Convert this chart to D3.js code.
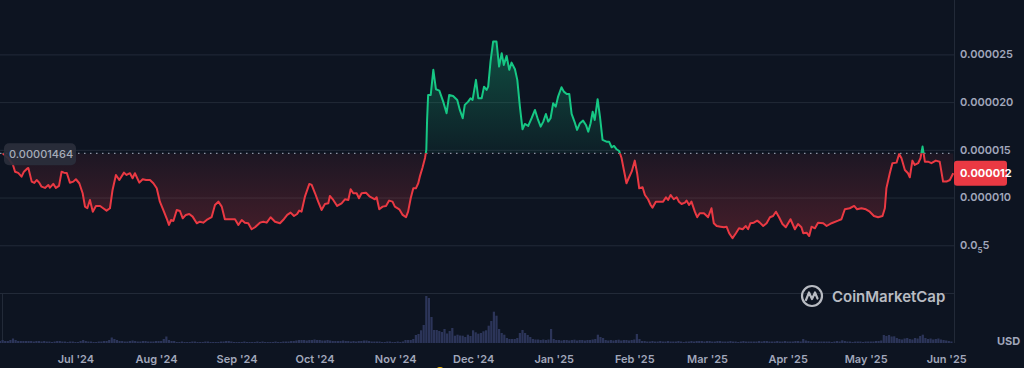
<!DOCTYPE html>
<html><head><meta charset="utf-8">
<script src="https://cdn.jsdelivr.net/npm/d3@7"></script>
<style>
html,body{margin:0;padding:0;background:#0d1421;overflow:hidden}
svg{display:block}
text{font-family:Inter,"Noto Sans",sans-serif}
</style>
</head><body>
<svg id="c" width="1024" height="368"></svg>
<script>
// ---------- DATA ----------
const startDate = Date.UTC(2024, 5, 2); // day 0
const endDate = Date.UTC(2025, 5, 4);
const openPrice = 0.00001464;            // reference (period open) price
const openPriceLabel = "0.00001464";
const lastPriceLabel = "0.000012";
const currencyLabel = "USD";
const watermarkText = "CoinMarketCap";

// price samples: day offset from startDate, price in micro-USD (1e-6)
const priceDays = [
1.0,3.1,5.0,5.8,7.0,8.3,9.2,10.3,10.9,12.2,
13.2,14.1,15.1,16.0,17.3,18.6,19.2,20.5,21.5,22.7,
23.7,24.6,25.7,26.9,28.2,29.2,30.5,31.8,32.7,33.6,
34.6,35.7,36.9,38.5,39.7,41.0,42.3,43.3,44.6,45.9,
47.7,48.7,50.0,51.0,51.9,53.6,54.9,56.2,57.7,59.0,
60.3,61.5,62.8,64.1,65.0,65.8,66.7,68.0,69.2,70.3,
71.5,72.8,74.1,75.7,76.9,78.2,79.5,81.4,82.7,84.0,
85.3,86.5,88.5,90.4,91.7,93.0,94.2,95.5,96.8,98.1,
100.0,101.3,102.6,104.1,105.8,107.7,109.2,110.5,111.8,113.1,
114.3,115.1,116.0,117.3,119.0,119.9,121.2,122.4,123.7,125.0,
126.3,126.9,128.2,129.7,131.4,132.7,134.0,134.9,135.9,137.2,
138.1,139.1,140.8,142.3,144.2,144.9,145.9,147.2,148.5,149.7,
151.0,151.9,153.6,154.9,156.2,157.0,158.0,159.0,160.0,160.9,
161.5,162.5,163.5,164.0,164.3,164.7,165.7,166.7,167.7,169.0,
170.5,171.8,172.8,174.3,175.9,176.9,178.0,178.8,180.1,181.0,
181.8,183.1,184.0,185.3,186.2,187.2,187.8,188.7,189.7,191.0,
192.0,193.0,193.8,194.9,195.9,196.8,198.1,199.0,200.0,201.0,
201.9,203.2,204.5,205.8,207.0,208.0,209.0,210.0,210.9,211.8,
212.8,213.8,214.7,216.0,216.9,218.0,219.0,219.9,221.2,222.0,
223.1,224.3,225.4,226.3,227.2,228.0,228.8,229.9,230.8,231.8,
233.3,234.3,235.3,236.2,237.2,238.2,239.1,240.0,241.0,242.0,
243.0,244.2,245.1,245.9,247.2,248.1,249.3,250.3,251.0,252.3,
253.8,255.1,256.2,257.0,258.0,259.2,260.3,261.2,262.2,263.5,
264.1,265.1,266.0,267.3,268.2,269.2,270.8,272.4,273.7,274.6,
275.7,277.2,278.5,279.5,280.5,281.8,283.1,284.3,285.7,286.9,
287.8,288.7,290.0,291.3,292.3,293.6,294.9,296.2,297.4,298.5,
299.7,301.0,302.3,304.1,305.8,307.0,308.3,309.0,310.3,311.3,
312.2,313.5,314.7,316.7,318.0,319.9,322.4,323.7,325.0,326.9,
328.6,329.7,331.4,333.1,334.6,336.2,337.8,339.5,340.4,341.0,
342.3,343.3,344.9,345.9,346.8,348.1,349.3,350.0,351.0,351.9,
353.2,354.1,354.9,355.8,357.0,358.3,360.0,361.5,362.8,364.1,
365.4,366.7];
const priceMicro = [
14.64,14.15,13.42,12.71,12.58,12.19,12.71,13.00,13.10,11.67,
11.53,11.84,11.56,11.14,11.01,11.32,11.04,11.43,11.01,11.22,
12.71,12.61,12.58,11.56,11.67,11.92,11.50,10.45,9.05,8.88,
9.75,8.52,9.12,9.12,8.88,8.63,8.88,10.80,12.37,11.84,
12.61,12.37,12.55,12.02,12.55,11.56,11.92,11.84,11.84,11.50,
10.97,9.57,8.70,7.83,7.13,7.65,7.55,8.70,8.60,7.83,
8.18,8.28,8.00,7.31,7.47,7.37,7.65,7.94,9.22,9.57,
9.05,7.73,7.73,7.73,7.13,7.65,7.37,7.31,6.68,6.89,
7.37,7.47,7.37,7.94,7.47,7.31,7.73,8.18,8.42,8.07,
8.28,8.63,8.52,10.09,11.43,11.32,10.45,9.57,8.70,9.33,
9.40,10.17,9.75,9.12,9.40,9.82,9.75,10.87,10.45,10.45,
9.93,10.45,10.51,10.09,9.82,10.03,8.77,9.05,9.12,9.68,
9.57,9.05,8.77,8.18,7.94,8.52,9.93,10.97,10.97,11.50,
12.19,13.10,14.15,14.99,18.13,20.75,20.75,23.38,21.35,21.21,
20.05,18.84,20.75,20.65,20.23,19.18,18.31,19.71,20.05,20.41,
20.23,22.33,20.41,20.41,21.62,21.28,21.62,24.25,26.34,26.34,
23.72,25.13,23.90,24.84,23.38,24.14,23.45,22.33,19.53,17.16,
17.71,17.51,18.31,19.18,18.13,17.43,17.96,18.76,17.96,18.31,
19.88,19.53,20.58,21.56,21.10,20.86,20.86,18.76,17.79,17.09,
17.79,18.06,17.61,16.91,17.79,19.00,18.13,20.30,18.48,16.04,
15.86,15.86,15.27,15.41,15.06,14.88,14.15,12.89,11.50,12.13,
12.71,13.87,12.55,10.97,11.08,10.27,9.82,9.22,8.94,9.57,
9.57,9.57,10.03,9.75,10.27,9.82,10.03,9.57,9.33,9.47,
9.68,9.22,9.57,8.52,7.94,8.35,8.35,7.94,8.88,7.31,
7.02,6.95,6.89,6.95,6.26,5.73,6.26,6.78,6.68,7.02,
6.68,7.31,7.37,7.58,7.37,7.02,7.31,7.94,8.07,8.52,
7.94,7.23,6.89,7.73,6.68,7.23,6.89,6.26,6.32,5.97,
6.95,6.78,7.37,7.31,7.02,7.31,7.58,7.73,8.77,8.88,
9.12,8.77,8.88,8.77,8.52,8.07,7.94,8.07,8.88,10.97,
12.55,13.60,13.66,14.57,14.12,12.89,12.55,12.13,13.87,13.42,
13.60,14.12,15.34,13.76,13.76,13.60,13.87,13.76,11.67,11.67,
11.84,12.55];

// daily volume (x100k USD), one value per day from startDate
const volumeValues = [
2,3,2,2,3,4.5,3,2,2,2,
2,2,2,1.5,2,2,1.5,2,1.5,1.5,
1,1.5,2,2,1.5,1.5,1,1.5,1.5,1,
1,2,3,2,1.5,1.5,1,1,1.5,1.5,
2,2,3,5.5,4,3,2,2,1.5,1.5,
2,2.5,2,1.5,1.5,2,2,1.5,1.5,1.5,
2,2,2,4,6.5,3,2,2,1,1,
1.5,1,1,1,1.5,1.5,1,1,1,1.5,
1.5,1,1,1,1,1.5,1.5,2,2,1.5,
1,1,1,1,1.5,1,1,1,1,1.5,
1,1.5,1,1,1,1,1.5,1,1,1.5,
1.5,1.5,2,2,2.5,3,3,3,2.5,3,
3,3.5,3,3,2.5,2.5,3,2.5,2,2,
2,2,2.5,2,2,1.5,2,1.5,2,2,
2.5,2.5,2,1.5,1.5,1.5,1.5,1,1,1.5,
1.5,1,1,1.5,1,1.5,3,3,3,4,
8,9,12.7,18,47,45,26,13,13,12,
11,14,9.5,12,15,7.3,8.3,7.5,7.3,6,
8.3,7,12.7,10.7,9.3,10,11.7,12.7,17.3,22,
31.3,27.3,14,10,8.3,5,4,4,4,5,
10,13,10,8,6,4,3.5,3.5,3,3.5,
3,3.5,14,4,3,3,2.5,3,3,2.5,
3,3.3,2.5,3,3,2.5,3,3,3.5,4,
8.3,6,5,3,2.5,3,2.5,3,3.3,2.5,
3,3,2.5,3,3.5,9,4,2,2,1.5,
1.5,2,1.5,1.5,2,1.5,1.5,2,1.5,1.5,
1.5,2,1.5,1,1.5,1.5,2,1.5,2,2,
2,1.5,2,2,1.5,1.5,2,2,1.5,1.5,
1.5,2,1.5,1.5,1,1.5,2,1.5,1.5,1.5,
1.5,1.5,2,1.5,2,2,1.5,1.5,1.5,2,
1.5,1.5,2,1.5,1.5,1.5,2,2,1.5,4,
2.5,2,1.5,1.5,1.5,1.5,1.5,1.5,1.5,1.5,
1,1.5,2,1.5,2.7,2,1.5,1.5,1,1.5,
1.5,1.5,1,1.5,1.5,1.5,1.5,2,2,2.5,
8,7,8,6.5,6.7,5,4,3.5,4.5,5,
4,3.5,5,4.5,7,8.3,5,4,4.5,3.5,
4,4.5,3.5,3,2.5,2,1.5];

const monthTicks = ["2024-07-01","2024-08-01","2024-09-01","2024-10-01","2024-11-01","2024-12-01",
  "2025-01-01","2025-02-01","2025-03-01","2025-04-01","2025-05-01","2025-06-01"];
const priceTicks = [0.000005, 0.000010, 0.000015, 0.000020, 0.000025];
const priceTickLabels = ["0.0\u20855", "0.000010", "0.000015", "0.000020", "0.000025"];

// ---------- CHART ----------
const DAY = 86400000;
const W = 1024, H = 368;
const plotRight = 954, priceBottom = 293, volBottom = 343, volTop = 295;
const C = {bg:"#0d1421", grid:"#222a38", text:"#a1a7bb", green:"#16c784", red:"#ea3943", vol:"#2c3559"};

const svg = d3.select("#c");
svg.append("rect").attr("width", W).attr("height", H).attr("fill", C.bg);

const x = d3.scaleUtc().domain([new Date(startDate), new Date(endDate)]).range([0, plotRight]);
const y = d3.scaleLinear().domain([0, 0.0000307]).range([priceBottom, 0]);
const yv = d3.scaleLinear().domain([0, 48]).range([volBottom, volTop]);

const prices = priceDays.map((d, i) => ({date: new Date(startDate + d * DAY), v: priceMicro[i] * 1e-6}));
const vols = volumeValues.map((v, i) => ({date: new Date(startDate + i * DAY), v}));
const yBase = y(openPrice);

// grid lines
const gy = d3.axisRight(y).tickValues(priceTicks).tickSize(plotRight).tickFormat("");
const gridG = svg.append("g").call(gy);
gridG.select(".domain").remove();
gridG.selectAll("line").attr("stroke", C.grid).attr("stroke-width", 1);
svg.append("line").attr("x1", 0).attr("x2", plotRight).attr("y1", priceBottom + 0.5).attr("y2", priceBottom + 0.5)
  .attr("stroke", C.grid);
svg.append("line").attr("x1", plotRight + 0.5).attr("x2", plotRight + 0.5).attr("y1", 0).attr("y2", volBottom)
  .attr("stroke", C.grid);
svg.append("line").attr("x1", 2.5).attr("x2", 2.5).attr("y1", priceBottom).attr("y2", volBottom)
  .attr("stroke", C.grid);

// volume bars
svg.append("g").selectAll("rect").data(vols).join("rect")
  .attr("x", d => x(d.date) - 1.1).attr("width", 2.2)
  .attr("y", d => yv(d.v)).attr("height", d => volBottom - yv(d.v))
  .attr("fill", C.vol);

// gradients & clips
const defs = svg.append("defs");
const gG = defs.append("linearGradient").attr("id", "gGreen").attr("gradientUnits", "userSpaceOnUse")
  .attr("x1", 0).attr("x2", 0).attr("y1", 40).attr("y2", yBase);
gG.append("stop").attr("offset", 0).attr("stop-color", C.green).attr("stop-opacity", 0.33);
gG.append("stop").attr("offset", 1).attr("stop-color", C.green).attr("stop-opacity", 0.06);
const gR = defs.append("linearGradient").attr("id", "gRed").attr("gradientUnits", "userSpaceOnUse")
  .attr("x1", 0).attr("x2", 0).attr("y1", yBase).attr("y2", 240);
gR.append("stop").attr("offset", 0).attr("stop-color", C.red).attr("stop-opacity", 0.07);
gR.append("stop").attr("offset", 1).attr("stop-color", C.red).attr("stop-opacity", 0.26);
defs.append("clipPath").attr("id", "cAbove").append("rect")
  .attr("x", 0).attr("y", 0).attr("width", plotRight).attr("height", yBase);
defs.append("clipPath").attr("id", "cBelow").append("rect")
  .attr("x", 0).attr("y", yBase).attr("width", plotRight).attr("height", priceBottom - yBase);

const area = d3.area().x(d => x(d.date)).y0(yBase).y1(d => y(d.v));
const line = d3.line().x(d => x(d.date)).y(d => y(d.v));

svg.append("path").datum(prices).attr("d", area).attr("fill", "url(#gGreen)").attr("clip-path", "url(#cAbove)");
svg.append("path").datum(prices).attr("d", area).attr("fill", "url(#gRed)").attr("clip-path", "url(#cBelow)");

// baseline dotted
svg.append("line").attr("x1", 0).attr("x2", plotRight).attr("y1", yBase).attr("y2", yBase)
  .attr("stroke", "#8d93a3").attr("stroke-width", 1.2).attr("stroke-dasharray", "1.5,4.5");

svg.append("path").datum(prices).attr("d", line).attr("fill", "none").attr("stroke", C.green)
  .attr("stroke-width", 2).attr("stroke-linejoin", "round").attr("clip-path", "url(#cAbove)");
svg.append("path").datum(prices).attr("d", line).attr("fill", "none").attr("stroke", C.red)
  .attr("stroke-width", 2).attr("stroke-linejoin", "round").attr("clip-path", "url(#cBelow)");

// right price axis labels
const yLab = svg.append("g");
priceTicks.forEach((t, i) => {
  const s = priceTickLabels[i];
  const tx = yLab.append("text").attr("x", 960).attr("y", y(t)).attr("dy", "0.35em")
    .attr("fill", C.text).attr("font-size", 11).attr("font-weight", 600);
  const m = s.match(/^(.*?)([\u2080-\u2089])(.*)$/);
  if (m) {
    tx.append("tspan").text(m[1]);
    tx.append("tspan").attr("dy", 4).attr("font-size", 8).text(String.fromCharCode(m[2].charCodeAt(0) - 0x2080 + 48));
    tx.append("tspan").attr("dy", -4).text(m[3]);
  } else tx.text(s);
});

// x axis labels
const xa = d3.axisBottom(x).tickValues(monthTicks.map(s => new Date(s + "T00:00:00Z")))
  .tickFormat(d3.utcFormat("%b '%y")).tickSize(0).tickPadding(0);
const xg = svg.append("g").attr("transform", `translate(0,${355})`).call(xa);
xg.select(".domain").remove();
xg.selectAll("text").attr("fill", C.text).attr("font-size", 11).attr("font-weight", 600)
  .attr("font-family", "Inter, 'Noto Sans', sans-serif");

// current price badge
const lastY = y(prices[prices.length - 1].v);
svg.append("rect").attr("x", 954).attr("y", lastY - 12.5).attr("width", 53).attr("height", 25).attr("rx", 3)
  .attr("fill", C.red);
svg.append("text").attr("x", 960).attr("y", lastY).attr("dy", "0.35em").attr("fill", "#ffffff")
  .attr("font-size", 11).attr("font-weight", 700).text(lastPriceLabel);

// open price badge
svg.append("rect").attr("x", 4).attr("y", yBase - 10).attr("width", 72).attr("height", 22).attr("rx", 5)
  .attr("fill", "#2a2f3c").attr("fill-opacity", 0.92);
svg.append("text").attr("x", 9).attr("y", yBase + 1).attr("dy", "0.35em").attr("fill", "#a6acb9")
  .attr("font-size", 11).attr("font-weight", 500).text(openPriceLabel);

// currency label
svg.append("text").attr("x", 997).attr("y", 341).attr("dy", "0.35em").attr("fill", C.text)
  .attr("font-size", 11).attr("font-weight", 700).text(currencyLabel);

// watermark
const wm = svg.append("g").attr("transform", "translate(812,296)").attr("opacity", 0.85);
wm.append("circle").attr("r", 10).attr("fill", "none").attr("stroke", "#d6d9df").attr("stroke-width", 2.2);
wm.append("path").attr("d", "M-6,4 L-3,-3.5 L0,3 L3,-3.5 L5.5,2.5").attr("fill", "none")
  .attr("stroke", "#d6d9df").attr("stroke-width", 2.2).attr("stroke-linecap", "round").attr("stroke-linejoin", "round");
svg.append("text").attr("x", 832).attr("y", 297).attr("dy", "0.35em").attr("fill", "#d6d9df").attr("opacity", 0.85)
  .attr("font-size", 15).attr("font-weight", 600).text(watermarkText);

// small event marker at bottom
svg.append("circle").attr("cx", 440).attr("cy", 371).attr("r", 4).attr("fill", "#f0b90b");
</script>
</body></html>
